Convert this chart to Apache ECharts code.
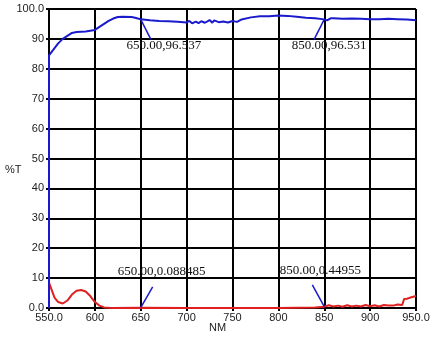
<!DOCTYPE html>
<html>
<head>
<meta charset="utf-8">
<script src="https://cdn.jsdelivr.net/npm/echarts@6/dist/echarts.min.js"></script>
<style>
  html, body { margin: 0; padding: 0; background: #fff; }
  #chart { width: 437px; height: 340px; }
</style>
</head>
<body>
<div id="chart"></div>
<script>
// transmission curve (blue)
var blueNm = [550, 550, 555, 560, 565, 570, 575, 580, 590, 600, 605, 610, 615, 620, 625, 630, 640, 645, 650, 660, 670, 680, 690, 700, 703, 706, 710, 713, 716, 720, 725, 728, 730, 735, 740, 745, 750, 755, 760, 770, 780, 790, 800, 810, 820, 830, 840, 850, 853, 855, 857, 860, 870, 880, 890, 900, 910, 920, 930, 940, 950];
var blueT = [0, 84.5, 86.5, 88.5, 90, 91, 92, 92.3, 92.5, 93, 94, 95, 96, 96.8, 97.3, 97.4, 97.3, 97, 96.54, 96.2, 96, 95.9, 95.7, 95.5, 96, 95.2, 95.8, 95.3, 95.9, 95.4, 96.3, 95.4, 96.2, 95.6, 95.8, 95.5, 96, 95.7, 96.5, 97.2, 97.6, 97.6, 97.8, 97.7, 97.4, 97.1, 96.9, 96.53, 96.2, 96.2, 96.9, 96.9, 96.7, 96.8, 96.7, 96.6, 96.6, 96.7, 96.6, 96.5, 96.2];

// second curve (red)
var redNm = [550, 553, 556, 560, 565, 570, 575, 580, 585, 590, 595, 600, 605, 610, 615, 620, 650, 700, 750, 800, 820, 840, 850, 855, 860, 865, 870, 875, 880, 885, 890, 895, 900, 905, 910, 915, 920, 925, 930, 935, 937, 940, 945, 950];
var redT = [8.5, 6, 3.5, 2, 1.5, 2.5, 4.5, 5.8, 6, 5.5, 4, 2, 0.8, 0.2, 0.05, 0, 0.09, 0, 0, 0, 0.1, 0.2, 0.45, 0.9, 0.5, 0.8, 0.4, 0.9, 0.5, 0.8, 0.5, 1.0, 0.6, 0.9, 0.5, 1, 0.8, 0.8, 1.2, 1, 3, 3.1, 3.6, 4];

// readout points
var markNm = [650, 850, 650, 850];
var markT = [96.537, 96.531, 0.088485, 0.44955];
var markText = ['650.00,96.537', '850.00,96.531', '650.00,0.088485', '850.00,0.44955'];

function pairs(xs, ys) {
  return xs.map(function (x, i) { return [x, ys[i]]; });
}

// leader end offsets (nm, %T) and label placement
var leaders = [
  { dx: 11, dy: -6.7, pos: 'bottom', off: [13, 0], dist: 0 },
  { dx: -11, dy: -6.7, pos: 'bottom', off: [15, 0], dist: 0 },
  { dx: 13, dy: 7, pos: 'top', off: [9, 0], dist: 9 },
  { dx: -13, dy: 7.3, pos: 'top', off: [8, 0], dist: 8 }
];

var annoSeries = markNm.map(function (nm, i) {
  var l = leaders[i];
  return {
    type: 'line',
    symbol: 'circle',
    symbolSize: 0,
    silent: true,
    lineStyle: { color: '#1a1acc', width: 1.5 },
    itemStyle: { color: '#1a1acc' },
    data: [
      [nm, markT[i]],
      {
        value: [nm + l.dx, markT[i] + l.dy],
        label: {
          show: true,
          position: l.pos,
          distance: l.dist,
          offset: l.off,
          formatter: markText[i],
          fontFamily: 'Liberation Serif',
          fontSize: 13,
          color: '#111'
        }
      }
    ],
    z: 5
  };
});

var chart = echarts.init(document.getElementById('chart'));
chart.setOption({
  animation: false,
  backgroundColor: '#fff',
  grid: { left: 49, right: 21, top: 9, bottom: 32, outerBoundsMode: 'none', containLabel: false },
  xAxis: {
    type: 'value',
    min: 550, max: 950, interval: 50,
    axisLine: { show: true, lineStyle: { color: '#000', width: 2 } },
    axisTick: { show: true, length: 3, lineStyle: { color: '#000', width: 2 } },
    axisLabel: {
      color: '#222', fontFamily: 'Liberation Sans', fontSize: 11, margin: 4,
      formatter: function (v) { return (v === 550 || v === 950) ? v.toFixed(1) : String(v); }
    },
    splitLine: { show: true, lineStyle: { color: '#000', width: 2 } }
  },
  yAxis: {
    type: 'value',
    min: 0, max: 100, interval: 10,
    axisLine: { show: true, lineStyle: { color: '#000', width: 2 } },
    axisTick: { show: true, length: 3, lineStyle: { color: '#000', width: 2 } },
    axisLabel: {
      color: '#222', fontFamily: 'Liberation Sans', fontSize: 11, margin: 5,
      formatter: function (v) { return (v === 0 || v === 100) ? v.toFixed(1) : String(v); }
    },
    splitLine: { show: true, lineStyle: { color: '#000', width: 2 } }
  },
  graphic: [
    {
      type: 'text', left: 5, top: 164,
      style: { text: '%T', fill: '#222', font: '11px "Liberation Sans"' }
    },
    {
      type: 'text', left: 209, top: 322,
      style: { text: 'NM', fill: '#222', font: '11px "Liberation Sans"' }
    }
  ],
  series: [
    {
      type: 'line', symbol: 'none', silent: true,
      lineStyle: { color: '#e02020', width: 2 },
      data: pairs(redNm, redT), z: 3
    },
    {
      type: 'line', symbol: 'none', silent: true,
      lineStyle: { color: '#1a1acc', width: 2 },
      data: pairs(blueNm, blueT), z: 4
    }
  ].concat(annoSeries)
});
</script>
</body>
</html>
